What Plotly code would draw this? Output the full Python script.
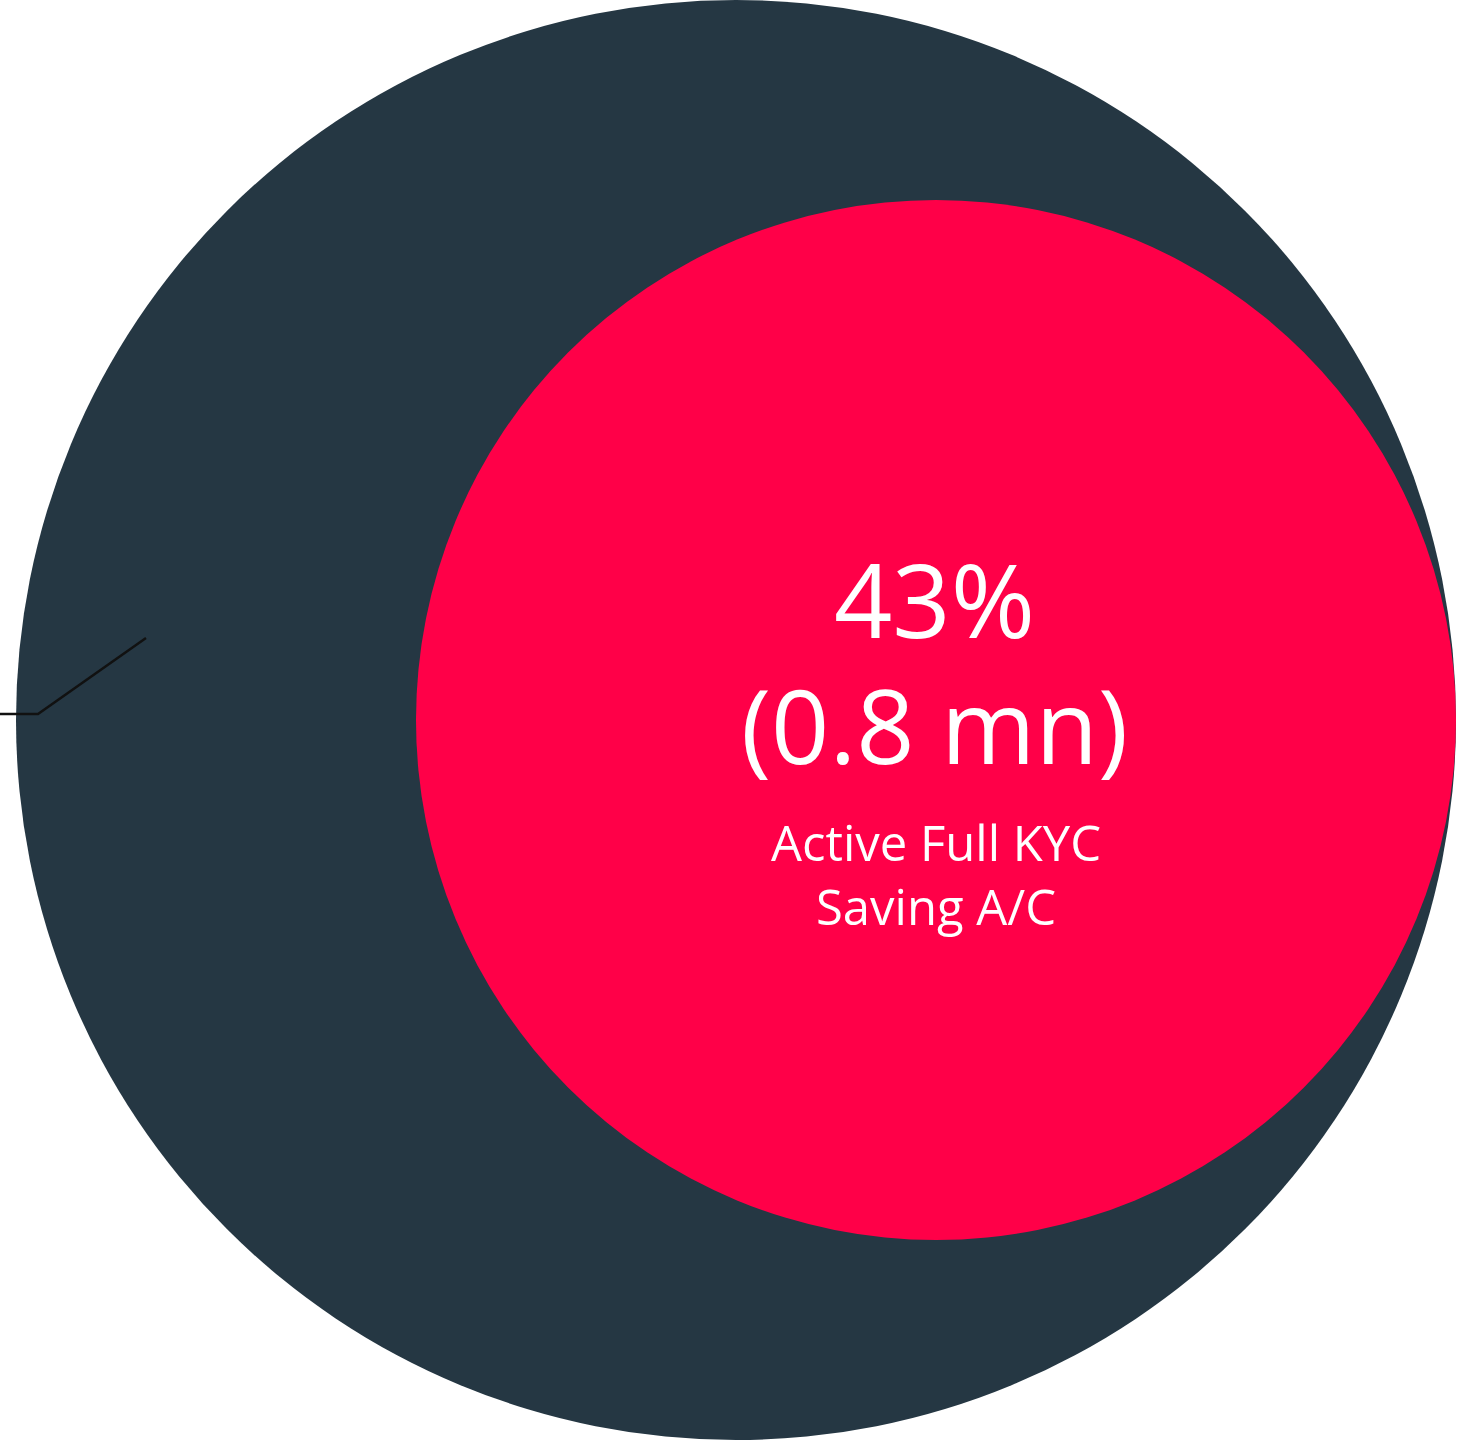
import plotly.graph_objects as go

# Data
share_labels = ["43%"]
value_labels = ["(0.8 mn)"]
category_lines = ["Active Full KYC", "Saving A/C"]
circle_names = ["All accounts", "Active Full KYC Saving A/C"]
circle_cx = [736, 936]
circle_cy = [720, 720]
circle_r = [720, 520]
circle_colors = ["#253743", "#FF0048"]

W, H = 1460, 1440
fig = go.Figure()
fig.add_trace(go.Scatter(x=[0, W], y=[0, H], mode="markers",
                         marker=dict(opacity=0), hoverinfo="skip", showlegend=False))

for cx, cy, r, col in zip(circle_cx, circle_cy, circle_r, circle_colors):
    fig.add_shape(type="circle", xref="x", yref="y",
                  x0=cx - r, x1=cx + r, y0=cy - r, y1=cy + r,
                  fillcolor=col, line=dict(width=0), layer="above")

# leader line
fig.add_shape(type="path", xref="x", yref="y",
              path="M 146 638 L 38 714 L -10 714",
              line=dict(color="#111111", width=2.5), layer="above")

font = "Open Sans, Noto Sans, sans-serif"
tx = circle_cx[1]
fig.add_annotation(x=tx - 2, y=640, text=share_labels[0], showarrow=False,
                   xanchor="center", yanchor="bottom", yshift=-30,
                   font=dict(family=font, size=102, color="white"))
fig.add_annotation(x=tx - 2, y=766, text=value_labels[0], showarrow=False,
                   xanchor="center", yanchor="bottom", yshift=-30,
                   font=dict(family=font, size=102, color="white"))
fig.add_annotation(x=tx, y=874, text="<br>".join(category_lines), showarrow=False,
                   xanchor="center", yanchor="middle", align="center",
                   font=dict(family=font, size=49, color="white"))

fig.update_xaxes(range=[0, W], visible=False, fixedrange=True)
fig.update_yaxes(range=[H, 0], visible=False, fixedrange=True)
fig.update_layout(width=W, height=H, margin=dict(l=0, r=0, t=0, b=0),
                  paper_bgcolor="white", plot_bgcolor="white", showlegend=False,
                  hovermode=False)
fig.write_html("out.html", config={"displayModeBar": False, "staticPlot": True},
               post_script="document.body.style.margin='0';document.body.style.overflow='hidden';")
